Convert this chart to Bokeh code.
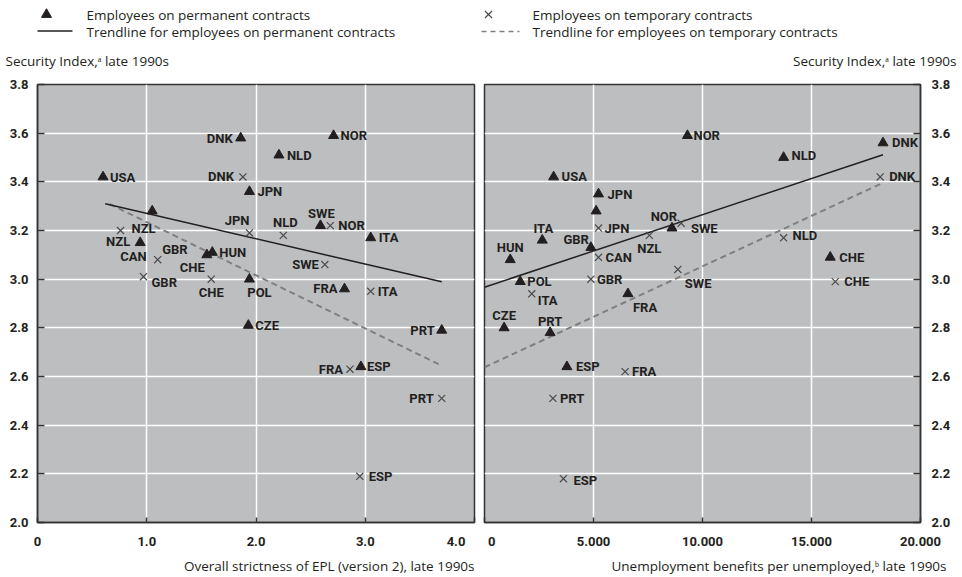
from bokeh.plotting import figure
from bokeh.models import Range1d, FixedTicker, ColumnDataSource
from bokeh.layouts import column, row
from bokeh.embed import file_html
from bokeh.resources import INLINE
from bokeh.core.properties import value

# ---------------- data ----------------
perm_countries = ["USA", "NZL", "GBR", "CHE", "HUN", "DNK", "NLD", "NOR",
                  "JPN", "SWE", "ITA", "FRA", "POL", "CZE", "ESP", "PRT"]
perm_epl = [0.60, 1.05, 0.94, 1.55, 1.60, 1.86, 2.21, 2.71,
            1.94, 2.59, 3.05, 2.81, 1.94, 1.93, 2.96, 3.70]
perm_security_epl = [3.42, 3.28, 3.15, 3.10, 3.11, 3.58, 3.51, 3.59,
                     3.36, 3.22, 3.17, 2.96, 3.00, 2.81, 2.64, 2.79]
perm_benefits = [3170, 5120, 4880, 15860, 1180, 18280, 13720, 9310,
                 5230, 8600, 2650, 6580, 1640, 900, 3780, 3010]
perm_security_ben = [3.42, 3.28, 3.13, 3.09, 3.08, 3.56, 3.50, 3.59,
                     3.35, 3.21, 3.16, 2.94, 2.99, 2.80, 2.64, 2.78]

temp_countries = ["DNK", "NZL", "CAN", "GBR", "CHE", "JPN", "NLD",
                  "SWE", "NOR", "ITA", "FRA", "PRT", "ESP"]
temp_epl = [1.88, 0.76, 1.10, 0.97, 1.59, 1.94, 2.25,
            2.63, 2.68, 3.05, 2.86, 3.70, 2.95]
temp_security_epl = [3.42, 3.20, 3.08, 3.01, 3.00, 3.19, 3.18,
                     3.06, 3.22, 2.95, 2.63, 2.51, 2.19]
temp_benefits = [18150, 7560, 5230, 4880, 16090, 5230, 13720,
                 8870, 9020, 2170, 6450, 3140, 3620]
temp_security_ben = [3.42, 3.18, 3.09, 3.00, 2.99, 3.21, 3.17,
                     3.04, 3.23, 2.94, 2.62, 2.51, 2.18]

# trendlines: x range, intercept, slope
trend_perm_epl = dict(x0=0.62, x1=3.70, intercept=3.374, slope=-0.104)
trend_temp_epl = dict(x0=0.66, x1=3.70, intercept=3.453, slope=-0.2185)
trend_perm_ben = dict(x0=0, x1=18280, intercept=2.967, slope=2.977e-5)
trend_temp_ben = dict(x0=0, x1=18180, intercept=2.638, slope=4.147e-5)

epl_ticks = [0, 1, 2, 3, 4]
epl_tick_labels = ["0", "1.0", "2.0", "3.0", "4.0"]
benefit_ticks = [0, 5000, 10000, 15000, 20000]
benefit_tick_labels = ["0", "5.000", "10.000", "15.000", "20.000"]
security_ticks = [2.0, 2.2, 2.4, 2.6, 2.8, 3.0, 3.2, 3.4, 3.6, 3.8]
security_tick_labels = ["2.0", "2.2", "2.4", "2.6", "2.8", "3.0", "3.2",
                        "3.4", "3.6", "3.8"]

legend_perm = "Employees on permanent contracts"
legend_perm_trend = "Trendline for employees on permanent contracts"
legend_temp = "Employees on temporary contracts"
legend_temp_trend = "Trendline for employees on temporary contracts"
y_title = "Security Index,\u1d43 late 1990s"
x_title_left = "Overall strictness of EPL (version 2), late 1990s"
x_title_right = "Unemployment benefits per unemployed,\u1d47 late 1990s"

# ---------------- label placement (layout only: dx, dy px, align) ----------------
L_PERM_EPL = {"USA": (7, 1, "left"), "NZL": (-22, 30, "right"), "GBR": (22, 7, "left"),
              "CHE": (-2, 13, "right"), "HUN": (7, 0, "left"), "DNK": (-8, 0, "right"),
              "NLD": (8, 0, "left"), "NOR": (7, 0, "left"), "JPN": (8, 0, "left"),
              "SWE": (1, -12, "center"), "ITA": (8, 0, "left"), "FRA": (-7, 0, "right"),
              "POL": (10, 13, "center"), "CZE": (7, 0, "left"), "ESP": (6, 0, "left"),
              "PRT": (-7, 0, "right")}
L_TEMP_EPL = {"DNK": (-9, 0, "right"), "NZL": (11, -2, "left"), "CAN": (-11, -3, "right"),
              "GBR": (8, 6, "left"), "CHE": (0, 13, "center"), "JPN": (0, -12, "right"),
              "NLD": (2, -13, "center"), "SWE": (-6, 0, "right"), "NOR": (8, 0, "left"),
              "ITA": (7, 0, "left"), "FRA": (-7, 0, "right"), "PRT": (-8, 0, "right"),
              "ESP": (9, 0, "left")}
L_PERM_BEN = {"USA": (8, 0, "left"), "NZL": None, "GBR": (-2, -8, "right"),
              "CHE": (9, 0, "left"), "HUN": (0, -12, "center"), "DNK": (9, 0, "left"),
              "NLD": (8, -2, "left"), "NOR": (6, 0, "left"), "JPN": (9, 0, "left"),
              "SWE": (19, 0, "left"), "ITA": (1, -12, "center"), "FRA": (5, 14, "left"),
              "POL": (7, 0, "left"), "CZE": (0, -12, "center"), "ESP": (9, 0, "left"),
              "PRT": (0, -11, "center")}
L_TEMP_BEN = {"DNK": (9, 0, "left"), "NZL": (0, 13, "center"), "CAN": (7, 0, "left"),
              "GBR": (6, 0, "left"), "CHE": (9, 0, "left"), "JPN": (6, 0, "left"),
              "NLD": (9, -2, "left"), "SWE": (7, 14, "left"), "NOR": (-4, -7, "right"),
              "ITA": (6, 7, "left"), "FRA": (7, 0, "left"), "PRT": (7, 0, "left"),
              "ESP": (10, 2, "left")}

INK = "#231f20"
BG = "#bcbec0"
CROSS = "#4a4a4a"
DASH = "#7f7f7f"
REG_FONT = "Open Sans"
BOLD_FONT = "Roboto"
NBSP = "\u00a0"


def add_labels(p, countries, xs, ys, pos):
    for align in ("left", "right", "center"):
        data = dict(x=[], y=[], text=[], dx=[], dy=[])
        for c, x, y in zip(countries, xs, ys):
            spec = pos.get(c)
            if spec is None or spec[2] != align:
                continue
            data["x"].append(x)
            data["y"].append(y)
            data["text"].append(c)
            data["dx"].append(spec[0])
            data["dy"].append(spec[1])
        if data["x"]:
            p.text(x="x", y="y", text="text", x_offset="dx", y_offset="dy",
                   source=ColumnDataSource(data), text_align=align,
                   text_baseline="middle", text_font=value(BOLD_FONT),
                   text_font_style="bold", text_font_size="13px", text_color=INK)


def trend(p, t, **kw):
    xs = [t["x0"], t["x1"]]
    ys = [t["intercept"] + t["slope"] * x for x in xs]
    p.line(xs, ys, **kw)


def panel(width, mbl, mbr, yloc, xr, xticks, xlabels,
          px, py, tx, ty, ppos, tpos, tp, tt):
    p = figure(width=width, height=477, x_range=Range1d(*xr),
               y_range=Range1d(2.0, 3.8), output_backend="svg",
               toolbar_location=None, y_axis_location=yloc,
               min_border_left=mbl, min_border_right=mbr,
               min_border_top=10, min_border_bottom=28)
    p.background_fill_color = BG
    p.border_fill_color = "white"
    p.outline_line_color = "#333333"
    p.outline_line_width = 1.5
    p.xaxis.ticker = FixedTicker(ticks=xticks)
    p.xaxis.major_label_overrides = dict(zip(xticks, xlabels))
    p.yaxis.ticker = FixedTicker(ticks=security_ticks)
    p.yaxis.major_label_overrides = dict(zip(security_ticks, security_tick_labels))
    for ax in (p.xaxis, p.yaxis):
        ax.axis_line_color = "#333333"
        ax.axis_line_width = 1.5
        ax.major_tick_line_color = "#333333"
        ax.major_tick_line_width = 1.5
        ax.major_tick_out = 0
        ax.minor_tick_line_color = None
        ax.major_label_text_font = BOLD_FONT
        ax.major_label_text_font_style = "bold"
        ax.major_label_text_font_size = "13px"
        ax.major_label_text_color = INK
    p.xaxis.major_tick_in = 5
    p.yaxis.major_tick_in = 7
    p.xaxis.major_label_standoff = 11
    p.yaxis.major_label_standoff = 9 if yloc == "left" else 11
    for g in (p.xgrid, p.ygrid):
        g.grid_line_color = "white"
        g.grid_line_width = 1.5
    trend(p, tt, line_color=DASH, line_width=2, line_dash="6 4")
    trend(p, tp, line_color=INK, line_width=1.5)
    p.scatter(tx, ty, marker="x", size=10, line_color=CROSS, line_width=1.2)
    p.scatter(px, py, marker="triangle", size=10, fill_color=INK, line_color=INK)
    add_labels(p, temp_countries, tx, ty, tpos)
    add_labels(p, perm_countries, px, py, ppos)
    return p


left = panel(481, 37, 7, "left", (0, 4), epl_ticks, epl_tick_labels,
             perm_epl, perm_security_epl, temp_epl, temp_security_epl,
             L_PERM_EPL, L_TEMP_EPL, trend_perm_epl, trend_temp_epl)
right = panel(481, 3, 42, "right", (0, 20000), benefit_ticks, benefit_tick_labels,
              perm_benefits, perm_security_ben, temp_benefits, temp_security_ben,
              L_PERM_BEN, L_TEMP_BEN, trend_perm_ben, trend_temp_ben)

# keep the two panels' edge tick labels ("4.0" and "0") apart, as in the original
left.xaxis.major_label_overrides = {**dict(zip(epl_ticks, epl_tick_labels)),
                                    epl_ticks[-1]: epl_tick_labels[-1] + NBSP * 5}
right.xaxis.major_label_overrides = {**dict(zip(benefit_ticks, benefit_tick_labels)),
                                     benefit_ticks[0]: NBSP * 2 + benefit_tick_labels[0]}


def strip(h):
    f = figure(width=962, height=h, x_range=Range1d(0, 962), y_range=Range1d(h, 0),
               output_backend="svg", toolbar_location=None, min_border=0,
               x_axis_location=None, y_axis_location=None)
    f.grid.visible = False
    f.outline_line_color = None
    f.background_fill_color = "white"
    f.border_fill_color = "white"
    return f


def txt(f, x, y, s, align="left"):
    f.text([x], [y], text=[s], text_align=align, text_baseline="middle",
           text_font=value(REG_FONT), text_font_size="13.5px", text_color=INK)


header = strip(74)
header.scatter([46], [14], marker="triangle", size=10, fill_color=INK, line_color=INK)
txt(header, 86, 14, legend_perm)
header.line([37, 72], [30.5, 30.5], line_color=INK, line_width=1.5)
txt(header, 86, 31, legend_perm_trend)
header.scatter([488], [14], marker="x", size=10, line_color=CROSS, line_width=1.2)
txt(header, 532, 14, legend_temp)
header.line([481, 519], [31, 31], line_color=DASH, line_width=1.5, line_dash="5 4")
txt(header, 532, 31, legend_temp_trend)
txt(header, 5, 60, y_title)
txt(header, 956, 60, y_title, align="right")

footer = strip(26)
txt(footer, 474, 14, x_title_left, align="right")
txt(footer, 946, 14, x_title_right, align="right")

layout = column(header, row(left, right), footer)
open("out.html", "w").write(file_html(layout, INLINE))
